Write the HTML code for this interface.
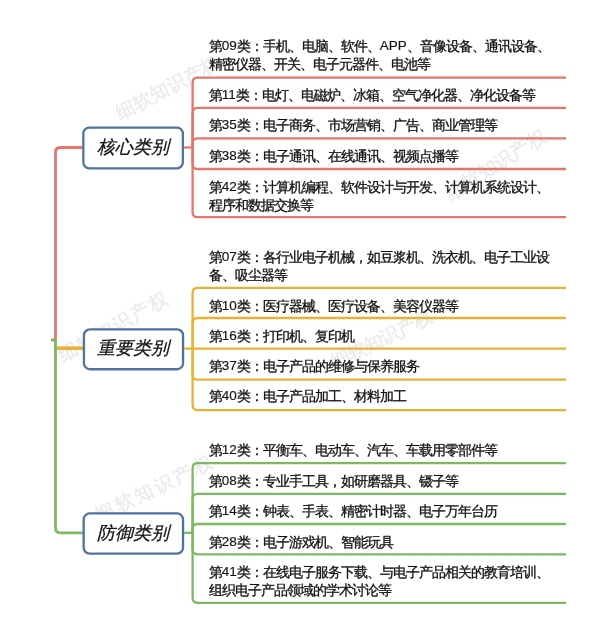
<!DOCTYPE html>
<html><head><meta charset="utf-8"><style>
html,body{margin:0;padding:0;background:#fff;width:601px;height:617px;overflow:hidden;}
body{position:relative;font-family:"Liberation Sans",sans-serif;}
svg{position:absolute;left:0;top:0;}
.t{position:absolute;left:208.8px;font-size:14px;letter-spacing:-1px;line-height:18px;color:#111;-webkit-text-stroke:0.3px #111;white-space:nowrap;}
.wm{position:absolute;width:160px;height:20px;line-height:20px;text-align:center;font-size:19px;box-sizing:border-box;color:#ececec;-webkit-text-stroke:0.6px #ececec;white-space:nowrap;}
.n{font-size:13.5px;letter-spacing:0;-webkit-text-stroke:0.15px #111;position:relative;top:-1px;}
.h{position:absolute;display:flex;align-items:center;justify-content:center;font-size:18px;font-style:italic;color:#111;-webkit-text-stroke:0.25px #111;}
</style></head><body><div id="w" style="position:absolute;left:0;top:0;width:601px;height:617px;will-change:transform;background:#fff;filter:blur(0.3px)">
<div class="wm" style="left:88.0px;top:78.4px;letter-spacing:-0.0px;text-indent:-0.0px;transform:rotate(-27.6deg)">细软知识产权</div>
<div class="wm" style="left:33.0px;top:317.0px;letter-spacing:1.6px;text-indent:1.6px;transform:rotate(-29.1deg)">细软知识产权</div>
<div class="wm" style="left:415.5px;top:154.5px;letter-spacing:0.1px;text-indent:0.1px;transform:rotate(-32.2deg)">细软知识产权</div>
<div class="wm" style="left:301.9px;top:329.4px;letter-spacing:-0.7px;text-indent:-0.7px;transform:rotate(-25.9deg)">细软知识产权</div>
<div class="wm" style="left:73.8px;top:479.3px;letter-spacing:2.6px;text-indent:2.6px;transform:rotate(-25.5deg)">细软知识产权</div>
<svg width="601" height="617" viewBox="0 0 601 617"><g fill="none" stroke-width="2.3" stroke-linecap="butt">
<path d="M57 348.2 H83" stroke="#E8B237" stroke-width="3.6"/>
<rect x="51" y="338.5" width="4" height="3" fill="#7DB964"/>
<path d="M83 532.8 H60.5 Q55.5 532.8 55.5 527.8 V339" stroke="#7DB964" stroke-width="2.8"/>
<path d="M83 147.5 H60.5 Q55.5 147.5 55.5 152.5 V339" stroke="#E4766C" stroke-width="2.8"/>
<path d="M566 77.7 H197.6 Q192.6 77.7 192.6 82.7 V147.5" stroke="#E4766C"/>
<path d="M566 107.8 H197.6 Q192.6 107.8 192.6 112.8 V147.5" stroke="#E4766C"/>
<path d="M566 138.4 H197.6 Q192.6 138.4 192.6 143.4 V147.5" stroke="#E4766C"/>
<path d="M566 169.0 H197.6 Q192.6 169.0 192.6 164.0 V147.5" stroke="#E4766C"/>
<path d="M566 217.2 H197.6 Q192.6 217.2 192.6 212.2 V147.5" stroke="#E4766C"/>
<path d="M184 147.5 H192.6" stroke="#E4766C"/>
<rect x="83.35000000000001" y="127.55000000000001" width="99.5" height="40.8" rx="6" fill="#fff" stroke="#4F72A0"/>
<path d="M566 287.9 H197.6 Q192.6 287.9 192.6 292.9 V348.6" stroke="#E8B237"/>
<path d="M566 318.0 H197.6 Q192.6 318.0 192.6 323.0 V348.6" stroke="#E8B237"/>
<path d="M566 348.6 H192.6" stroke="#E8B237"/>
<path d="M566 379.7 H197.6 Q192.6 379.7 192.6 374.7 V348.6" stroke="#E8B237"/>
<path d="M566 410.1 H197.6 Q192.6 410.1 192.6 405.1 V348.6" stroke="#E8B237"/>
<path d="M184.2 348.6 H192.6" stroke="#E8B237"/>
<rect x="83.95" y="329.34999999999997" width="99.1" height="39.89999999999999" rx="6" fill="#fff" stroke="#4F72A0"/>
<path d="M566 463.1 H197.6 Q192.6 463.1 192.6 468.1 V532.8" stroke="#7DB964"/>
<path d="M566 493.8 H197.6 Q192.6 493.8 192.6 498.8 V532.8" stroke="#7DB964"/>
<path d="M566 524.0 H197.6 Q192.6 524.0 192.6 529.0 V532.8" stroke="#7DB964"/>
<path d="M566 554.3 H197.6 Q192.6 554.3 192.6 549.3 V532.8" stroke="#7DB964"/>
<path d="M566 602.8 H197.6 Q192.6 602.8 192.6 597.8 V532.8" stroke="#7DB964"/>
<path d="M184.2 532.8 H192.6" stroke="#7DB964"/>
<rect x="83.65" y="513.4499999999999" width="99.39999999999999" height="40.2" rx="6" fill="#fff" stroke="#4F72A0"/>
</g></svg>
<div class="t" style="top:37.3px">第<span class="n">09</span>类：手机、电脑、软件、<span class="n">APP</span>、音像设备、通讯设备、</div>
<div class="t" style="top:55.3px">精密仪器、开关、电子元器件、电池等</div>
<div class="t" style="top:85.9px">第<span class="n">11</span>类：电灯、电磁炉、冰箱、空气净化器、净化设备等</div>
<div class="t" style="top:116.0px">第<span class="n">35</span>类：电子商务、市场营销、广告、商业管理等</div>
<div class="t" style="top:147.3px">第<span class="n">38</span>类：电子通讯、在线通讯、视频点播等</div>
<div class="t" style="top:177.6px">第<span class="n">42</span>类：计算机编程、软件设计与开发、计算机系统设计、</div>
<div class="t" style="top:195.6px">程序和数据交换等</div>
<div class="h" style="left:82.2px;top:125.4px;width:101.8px;height:43.099999999999994px">核心类别</div>
<div class="t" style="top:248.4px">第<span class="n">07</span>类：各行业电子机械，如豆浆机、洗衣机、电子工业设</div>
<div class="t" style="top:266.4px">备、吸尘器等</div>
<div class="t" style="top:296.7px">第<span class="n">10</span>类：医疗器械、医疗设备、美容仪器等</div>
<div class="t" style="top:326.6px">第<span class="n">16</span>类：打印机、复印机</div>
<div class="t" style="top:357.0px">第<span class="n">37</span>类：电子产品的维修与保养服务</div>
<div class="t" style="top:387.4px">第<span class="n">40</span>类：电子产品加工、材料加工</div>
<div class="h" style="left:82.8px;top:327.2px;width:101.39999999999999px;height:42.19999999999999px">重要类别</div>
<div class="t" style="top:441.0px">第<span class="n">12</span>类：平衡车、电动车、汽车、车载用零部件等</div>
<div class="t" style="top:472.0px">第<span class="n">08</span>类：专业手工具，如研磨器具、镊子等</div>
<div class="t" style="top:502.2px">第<span class="n">14</span>类：钟表、手表、精密计时器、电子万年台历</div>
<div class="t" style="top:532.7px">第<span class="n">28</span>类：电子游戏机、智能玩具</div>
<div class="t" style="top:563.0px">第<span class="n">41</span>类：在线电子服务下载、与电子产品相关的教育培训、</div>
<div class="t" style="top:581.0px">组织电子产品领域的学术讨论等</div>
<div class="h" style="left:82.5px;top:511.29999999999995px;width:101.69999999999999px;height:42.5px">防御类别</div>
</div></body></html>
